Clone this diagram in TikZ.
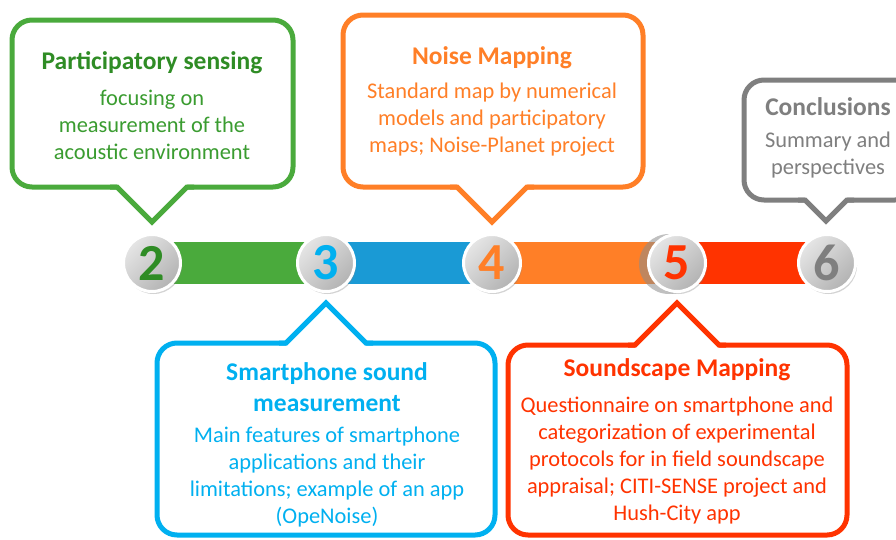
\documentclass[tikz,border=0pt]{standalone}
\usepackage{fontspec}
\setmainfont{Carlito}
\usetikzlibrary{shadows}

\definecolor{pgreen}{HTML}{4AAA3C}
\definecolor{pgreendark}{HTML}{2F8C25}
\definecolor{pgreentxt}{HTML}{3A9C30}
\definecolor{pblue}{HTML}{00B0F0}
\definecolor{pbluebar}{HTML}{1A9AD5}
\definecolor{porange}{HTML}{FF7F27}
\definecolor{pred}{HTML}{FF3300}
\definecolor{pgray}{HTML}{7F7F7F}

\begin{document}
\begin{tikzpicture}[x=1pt, y=-1pt,
  box/.style={line width=5pt, fill=white, rounded corners=20pt},
  notch/.style={line width=5pt, line join=miter},
  bar/.style={line width=42pt},
  stop/.style={circle, minimum size=57pt, inner sep=0pt, draw=white,
    line width=3pt, top color=black!10, bottom color=black!30,
    shading angle=45,
    drop shadow={opacity=0.35, shadow xshift=1.5pt, shadow yshift=-2.5pt},
    font=\bfseries\fontsize{52}{52}\selectfont},
  title/.style={font=\bfseries\fontsize{25.5}{30.5}\selectfont, align=center, inner sep=0pt},
  body/.style={font=\fontsize{22.4}{27}\selectfont, align=center, inner sep=0pt}]
  \useasboundingbox (0,0) rectangle (896,539);
  \clip (0,0) rectangle (896,539);

  % Stops of the timeline
  \foreach \n/\x in {2/152, 3/326, 4/492, 5/677, 6/827}
    \coordinate (p\n) at (\x,263);

  % Coloured bar, one piece per section
  \foreach \a/\b/\col in {2/3/pgreen, 3/4/pbluebar, 4/5/porange, 5/6/pred}
    \draw[bar, \col] (p\a) -- (p\b);

  % Faint second disc behind stop 5
  \fill[black!45, opacity=0.55] (669,264) circle (30);

  % Numbered discs
  \foreach \n/\col in {2/pgreendark, 3/pblue, 4/porange, 5/pred, 6/pgray}
    \node[stop, text=\col] (c\n) at (p\n) {\n};

  % Callouts above the bar (pointer at the bottom)
  \draw[box, draw=pgreen] (12,20) rectangle (293,187);
  \fill[white] (117,182) -- (117,187) -- (152,222) -- (187,187) -- (187,182) -- cycle;
  \draw[notch, pgreen] (110,187) -- (117,187) -- (152,222) -- (187,187) -- (194,187);

  \draw[box, draw=porange] (343,15) rectangle (643,187);
  \fill[white] (457,182) -- (457,187) -- (492,222) -- (527,187) -- (527,182) -- cycle;
  \draw[notch, porange] (450,187) -- (457,187) -- (492,222) -- (527,187) -- (534,187);

  \draw[box, draw=pgray] (744,80) rectangle (915,200);
  \fill[white] (805,195) -- (805,200) -- (826,221) -- (847,200) -- (847,195) -- cycle;
  \draw[notch, pgray] (798,200) -- (805,200) -- (826,221) -- (847,200) -- (854,200);

  % Callouts below the bar (pointer at the top)
  \draw[box, draw=pblue] (157,343) rectangle (495,535);
  \fill[white] (286,348) -- (286,343) -- (326,303) -- (366,343) -- (366,348) -- cycle;
  \draw[notch, pblue] (279,343) -- (286,343) -- (326,303) -- (366,343) -- (373,343);

  \draw[box, draw=pred] (508,345) rectangle (847,535);
  \fill[white] (635,350) -- (635,345) -- (677,303) -- (719,345) -- (719,350) -- cycle;
  \draw[notch, pred] (628,345) -- (635,345) -- (677,303) -- (719,345) -- (726,345);

  % Texts
  \node[title, pgreendark] (t2) at (152,63) {Participatory sensing};
  \node[body, pgreentxt] (b2) at (152,125) {focusing on\\measurement of the\\acoustic environment};

  \node[title, porange] (t4) at (492,58) {Noise Mapping};
  \node[body, porange] (b4) at (492,120) {Standard map by numerical\\models and participatory\\maps; Noise-Planet project};

  \node[title, pgray] (t6) at (828,107) {Conclusions};
  \node[body, pgray] (b6) at (828,155) {Summary and\\perspectives};

  \node[title, pblue] (t3) at (327,387) {Smartphone sound\\measurement};
  \node[body, pblue] (b3) at (327,477) {Main features of smartphone\\applications and their\\limitations; example of an app\\(OpeNoise)};

  \node[title, pred] (t5) at (677,370) {Soundscape Mapping};
  \node[body, pred] (b5) at (677,461) {Questionnaire on smartphone and\\categorization of experimental\\protocols for in field soundscape\\appraisal; CITI-SENSE project and\\Hush-City app};
\end{tikzpicture}
\end{document}
